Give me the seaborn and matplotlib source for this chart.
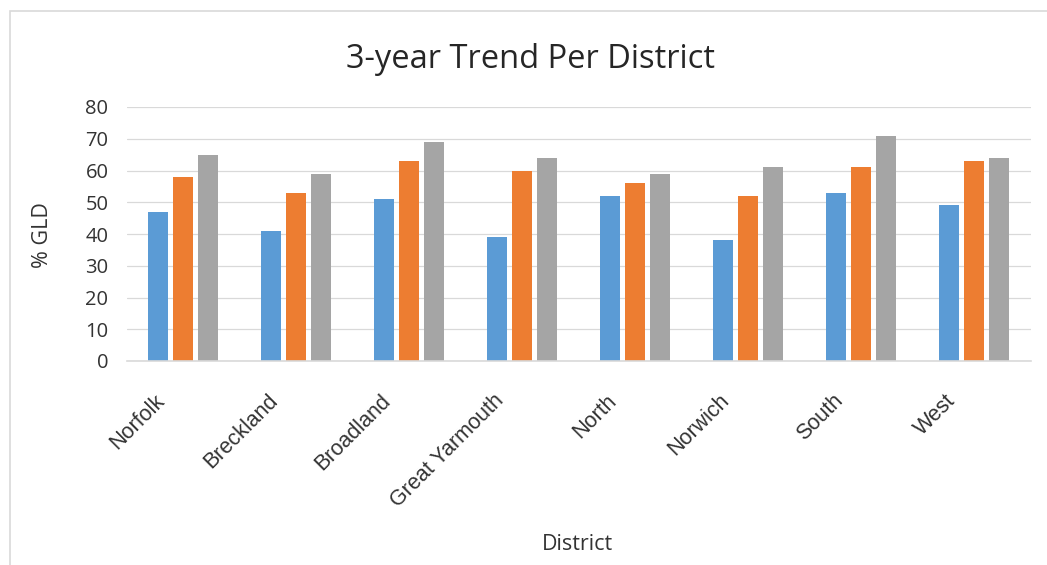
import matplotlib
matplotlib.use("Agg")
import matplotlib.pyplot as plt
import matplotlib.transforms as mtransforms
from matplotlib.patches import Rectangle
import seaborn as sns
import pandas as pd

# GLD percentages per district for three consecutive years
districts = ["Norfolk", "Breckland", "Broadland", "Great Yarmouth",
             "North", "Norwich", "South", "West"]
years = ["Year 1", "Year 2", "Year 3"]
year1 = [47, 41, 51, 39, 52, 38, 53, 49]
year2 = [58, 53, 63, 60, 56, 52, 61, 63]
year3 = [65, 59, 69, 64, 59, 61, 71, 64]
colors = ["#5B9BD5", "#ED7D31", "#A5A5A5"]

df = pd.DataFrame({
    "District": districts * 3,
    "Year": sum([[y] * len(districts) for y in years], []),
    "GLD": year1 + year2 + year3,
})

sns.set_theme(style="white")
plt.rcParams["font.family"] = ["Open Sans", "DejaVu Sans"]

W, H = 1047, 565
fig = plt.figure(figsize=(W / 100, H / 100), dpi=100)
ax = fig.add_axes([126.5 / W, 1 - 361 / H, 904 / W, 254 / H])

sns.barplot(data=df, x="District", y="GLD", hue="Year", order=districts,
            hue_order=years, palette=colors, width=0.664, gap=0.2,
            saturation=1, legend=False, linewidth=0, ax=ax)

ax.set_xlim(-0.5, len(districts) - 0.5)
ax.set_ylim(0, 80)
ax.set_yticks(range(0, 81, 10))
ax.yaxis.grid(True, color="#D9D9D9", linewidth=0.9)
ax.set_axisbelow(True)
for side in ["top", "right", "left"]:
    ax.spines[side].set_visible(False)
ax.spines["bottom"].set_color("#D9D9D9")
ax.spines["bottom"].set_linewidth(1.2)

ax.tick_params(axis="y", length=0, pad=13, labelsize=14.5, labelcolor="#333333")
ax.tick_params(axis="x", length=0, pad=21)
shift = mtransforms.ScaledTranslation(-0.14, 0, fig.dpi_scale_trans)
for lbl in ax.get_xticklabels():
    lbl.set_rotation(45)
    lbl.set_ha("right")
    lbl.set_va("top")
    lbl.set_fontfamily(["Liberation Sans", "DejaVu Sans"])
    lbl.set_fontsize(15.5)
    lbl.set_color("#333333")
    lbl.set_transform(lbl.get_transform() + shift)

ax.set_xlabel("")
ax.set_ylabel("")
fig.text(43 / W, 1 - 235 / H, "% GLD", rotation=90, ha="center", va="center",
         fontsize=15.5, color="#333333")
fig.text(577 / W, 1 - 545 / H, "District", ha="center", va="center",
         fontsize=15.5, color="#333333")
fig.text(531 / W, 1 - 60 / H, "3-year Trend Per District", ha="center",
         va="center", fontsize=23.5, color="#262626")

# light chart-area border
fig.patches.append(Rectangle((9.5 / W, -0.1), 1.2, 1 - 11 / H + 0.1,
                             transform=fig.transFigure, fill=False,
                             edgecolor="#D9D9D9", linewidth=1.2))

fig.savefig("out.png", dpi=100, facecolor="white")
